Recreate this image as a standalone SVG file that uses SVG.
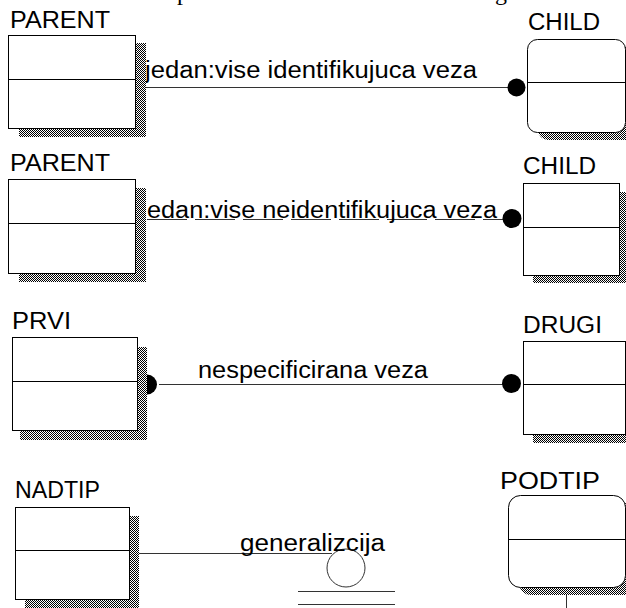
<svg xmlns="http://www.w3.org/2000/svg" width="626" height="608" viewBox="0 0 626 608">
  <defs>
    <!-- 1px checkerboard used for the drop shadows -->
    <pattern id="dither" patternUnits="userSpaceOnUse" width="2" height="2">
      <rect width="2" height="2" fill="#ffffff"/>
      <rect x="0" y="0" width="1" height="1" fill="#000000"/>
      <rect x="1" y="1" width="1" height="1" fill="#000000"/>
    </pattern>
  </defs>
  <style>
    .label { font-family: "Liberation Sans", Arial, sans-serif; font-size: 23px; fill: #000; }
    .doc { font-family: "Liberation Serif", "Times New Roman", serif; font-size: 24px; fill: #000; }
    .box { fill: #ffffff; stroke: #000; stroke-width: 1; }
    .shadow { fill: url(#dither); stroke: none; }
    .div { stroke: #000; stroke-width: 1; }
    .rel { stroke: #333; stroke-width: 1; fill: none; }
    .dashed { stroke-dasharray: 40 8; }
    .dot { fill: #000; }
  </style>

  <rect width="626" height="608" fill="#ffffff"/>

  <!-- descenders of the surrounding document line -->
  <text class="doc" x="177" y="0">p</text>
  <text class="doc" x="495" y="0">g</text>

  <!-- relationships -->
  <g id="connectors">
    <!-- identifying one-to-many -->
    <line class="rel" x1="146" y1="87.5" x2="508" y2="87.5"/>
    <circle class="dot" cx="516.5" cy="87.5" r="9"/>
    <text class="label" x="145" y="78" textLength="332" lengthAdjust="spacingAndGlyphs">jedan:vise identifikujuca veza</text>

    <!-- non-identifying one-to-many -->
    <line class="rel dashed" x1="147" y1="219.5" x2="503" y2="219.5"/>
    <circle class="dot" cx="512" cy="218.5" r="9.5"/>
    <text class="label" x="147" y="218" textLength="350" lengthAdjust="spacingAndGlyphs">edan:vise neidentifikujuca veza</text>

    <!-- non-specific many-to-many -->
    <circle class="dot" cx="147" cy="384.5" r="10"/>
    <line class="rel" x1="159" y1="384.5" x2="503" y2="384.5"/>
    <circle class="dot" cx="511.5" cy="383.5" r="9.5"/>
    <text class="label" x="198" y="378" textLength="230" lengthAdjust="spacingAndGlyphs">nespecificirana veza</text>

    <!-- generalization -->
    <line class="rel" x1="139" y1="553.5" x2="332" y2="553.5"/>
    <circle class="rel" cx="346" cy="568" r="19" stroke="#000"/>
    <line class="rel" x1="298" y1="591.5" x2="395" y2="591.5" stroke="#000"/>
    <line class="rel" x1="298" y1="604.5" x2="395" y2="604.5" stroke="#000"/>
    <text class="label" x="240" y="551" textLength="145" lengthAdjust="spacingAndGlyphs">generalizcija</text>
    <line class="rel" x1="566.5" y1="595" x2="566.5" y2="608" stroke="#000"/>
  </g>

  <!-- entities -->
  <g id="parent1">
    <rect class="shadow" x="19" y="43" width="127" height="94"/>
    <rect class="box" x="8.5" y="35.5" width="127" height="93"/>
    <line class="div" x1="8.5" y1="79.5" x2="135.5" y2="79.5"/>
    <text class="label" x="10" y="28" textLength="100" lengthAdjust="spacingAndGlyphs">PARENT</text>
  </g>

  <g id="child1">
    <rect class="shadow" x="538" y="47" width="98" height="93" rx="10"/>
    <rect class="box" x="527.5" y="39.5" width="98" height="93" rx="10"/>
    <line class="div" x1="527.5" y1="82.5" x2="625.5" y2="82.5"/>
    <text class="label" x="528" y="30" textLength="72" lengthAdjust="spacingAndGlyphs">CHILD</text>
  </g>

  <g id="parent2">
    <rect class="shadow" x="19" y="188" width="127" height="94"/>
    <rect class="box" x="8.5" y="179.5" width="127" height="94"/>
    <line class="div" x1="8.5" y1="223.5" x2="135.5" y2="223.5"/>
    <text class="label" x="10" y="171" textLength="100" lengthAdjust="spacingAndGlyphs">PARENT</text>
  </g>

  <g id="child2">
    <rect class="shadow" x="533" y="192" width="96" height="91"/>
    <rect class="box" x="523.5" y="183.5" width="96" height="92"/>
    <line class="div" x1="523.5" y1="227.5" x2="619.5" y2="227.5"/>
    <text class="label" x="523" y="174" textLength="73" lengthAdjust="spacingAndGlyphs">CHILD</text>
  </g>

  <g id="prvi">
    <rect class="shadow" x="137" y="347" width="10" height="93"/>
    <rect class="shadow" x="20" y="430" width="127" height="10"/>
    <rect class="box" x="12.5" y="337.5" width="125" height="93"/>
    <line class="div" x1="12.5" y1="381.5" x2="137.5" y2="381.5"/>
    <text class="label" x="12" y="329" textLength="59" lengthAdjust="spacingAndGlyphs">PRVI</text>
  </g>

  <g id="drugi">
    <rect class="shadow" x="533" y="350" width="102" height="93"/>
    <rect class="box" x="523.5" y="341.5" width="102" height="93"/>
    <line class="div" x1="523.5" y1="384.5" x2="625.5" y2="384.5"/>
    <text class="label" x="523" y="333" textLength="79" lengthAdjust="spacingAndGlyphs">DRUGI</text>
  </g>

  <g id="nadtip">
    <rect class="shadow" x="25" y="516" width="114" height="92"/>
    <rect class="box" x="15.5" y="507.5" width="114" height="92"/>
    <line class="div" x1="15.5" y1="550.5" x2="129.5" y2="550.5"/>
    <text class="label" x="15" y="498" textLength="85" lengthAdjust="spacingAndGlyphs">NADTIP</text>
  </g>

  <g id="podtip">
    <rect class="shadow" x="519" y="503" width="117" height="92" rx="12"/>
    <rect class="box" x="508.5" y="495.5" width="117" height="92" rx="12"/>
    <line class="div" x1="508.5" y1="539.5" x2="625.5" y2="539.5"/>
    <text class="label" x="500" y="489" textLength="100" lengthAdjust="spacingAndGlyphs">PODTIP</text>
  </g>
</svg>
